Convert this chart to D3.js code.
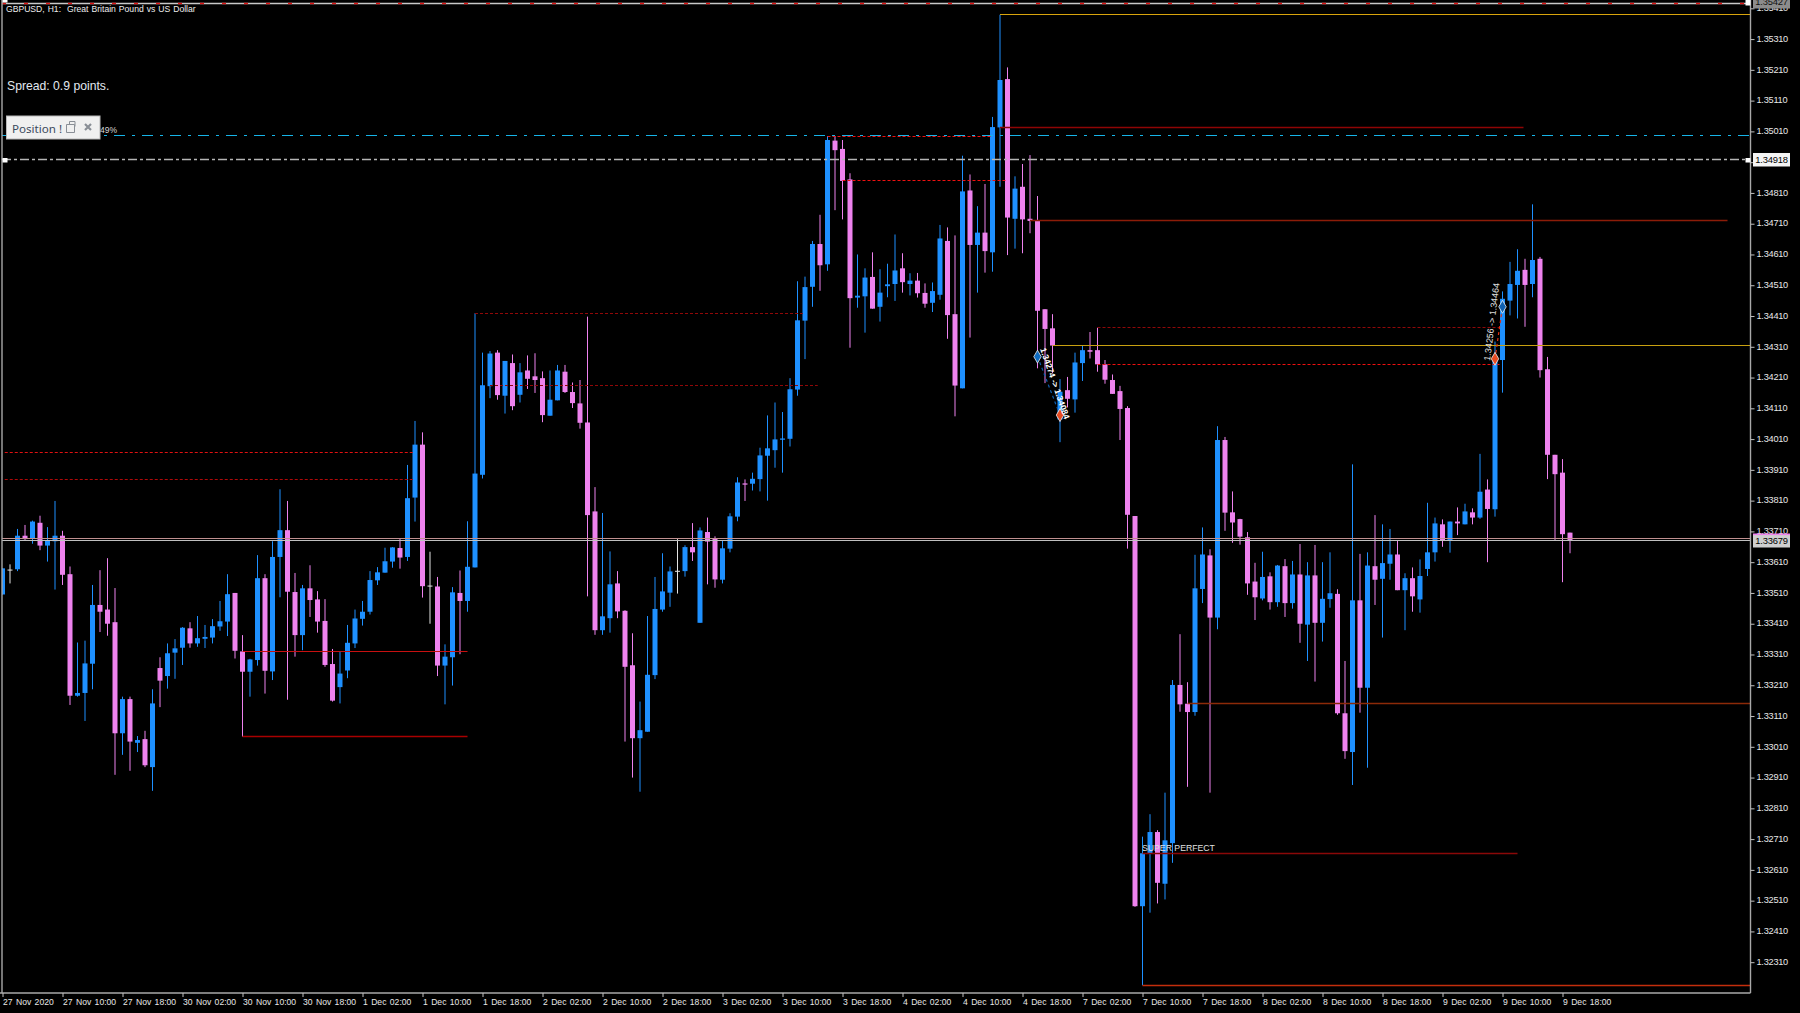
<!DOCTYPE html>
<html><head><meta charset="utf-8">
<style>html,body{margin:0;padding:0;background:#000;overflow:hidden}svg{display:block}</style>
<script src="https://cdn.jsdelivr.net/npm/d3@7/dist/d3.min.js"></script>
</head><body><div id="chart"></div>
<script>
// prices are stored in points: 133590 = 1.33590
const barHigh=[133590,133603,133718,133731,133745,133761,133724,133809,133712,133596,
133349,133355,133536,133584,133623,133526,133173,133173,133045,133062,
133197,133301,133346,133360,133399,133415,133435,133406,133425,133484,
133571,133510,133373,133296,133633,133571,133678,133847,133809,133575,
133536,133600,133516,133490,133328,133319,133406,133456,133484,133581,
133594,133657,133659,133687,133926,134069,134032,133644,133562,133343,
133529,133583,133743,134419,134291,134296,134299,134264,134285,134257,
134282,134289,134230,134233,134251,134251,134194,134202,134408,133854,
133770,133645,133581,133454,133379,133157,133435,133562,133639,133596,
133685,133665,133737,133723,133755,133694,133681,133769,133886,133879,
133901,133982,134087,134129,134098,134208,134523,134538,134654,134739,
134995,134995,134982,134874,134610,134565,134617,134562,134580,134675,
134614,134549,134550,134516,134519,134706,134698,134672,134931,134870,
134767,134839,135057,135389,135218,134864,134904,134933,134800,134432,
134416,134205,134212,134291,134314,134358,134372,134267,134220,134183,
134117,133760,132718,132791,132739,132861,133227,133376,133220,133634,
133723,133652,134052,134017,133840,133751,133708,133608,133644,133577,
133601,133620,133614,133669,133610,133666,133610,133642,133522,133289,
133928,133637,133642,133763,133733,133718,133682,133574,133593,133619,
133803,133755,133749,133742,133788,133800,133785,133962,133879,134327,
134490,134586,134627,134596,134773,134602,134277,133959,133945,133706];
const barLow=[133505,133541,133581,133682,133670,133649,133612,133521,133536,133146,
133173,133094,133197,133383,133371,132919,132984,132932,132993,132944,
132867,133139,133199,133231,133276,133332,133335,133331,133346,133387,
133370,133297,133043,133173,133274,133183,133227,133496,133163,133303,
133324,133432,133381,133270,133157,133151,133233,133331,133404,133440,
133536,133576,133592,133589,133614,133742,133495,133410,133240,133148,
133209,133311,133449,133593,133882,134143,134138,134093,134104,134129,
134173,134160,134065,134086,134136,134160,134111,134044,133499,133374,
133374,133381,133428,133027,132910,132864,133059,133230,133449,133465,
133508,133563,133614,133413,133538,133527,133541,133642,133743,133809,
133843,133840,133810,133917,133901,133986,134151,134270,134440,134492,
134557,134754,134724,134307,134437,134356,134434,134392,134471,134459,
134486,134477,134470,134437,134423,134463,134336,134084,134175,134340,
134486,134551,134554,134830,134608,134629,134614,134679,134240,134192,
134225,134000,134113,134096,134199,134272,134229,134190,134157,134007,
133654,132490,132235,132471,132501,132514,132633,133124,132880,133111,
133477,132861,133392,133712,133673,133667,133504,133422,133486,133456,
133465,133432,133459,133348,133289,133222,133352,133462,133114,132971,
132886,133121,132942,133471,133365,133553,133519,133389,133449,133446,
133565,133612,133660,133641,133698,133733,133733,133751,133610,133758,
134161,134412,134402,134375,134471,134210,133880,133682,133545,133639];
const barOpen=[133505,133586,133587,133696,133687,133738,133664,133678,133696,133571,
133176,133185,133280,133471,133456,133415,133054,133165,133023,133035,
132944,133266,133240,133316,133332,133395,133346,133361,133365,133401,
133417,133510,133320,133254,133292,133558,133255,133627,133714,133513,
133373,133525,133489,133419,133279,133204,133258,133346,133426,133449,
133551,133576,133612,133656,133627,133820,133992,133534,133531,133274,
133301,133510,133484,133593,133894,134182,134291,134151,134257,134154,
134233,134214,134208,134086,134136,134229,134163,134126,134064,133775,
133389,133428,133541,133452,133275,133038,133059,133243,133456,133511,
133582,133581,133659,133413,133708,133686,133553,133654,133758,133866,
133865,133880,133956,133974,134008,134011,134171,134395,134505,134644,
134578,134980,134953,134854,134470,134474,134537,134440,134507,134514,
134565,134514,134525,134485,134453,134479,134654,134416,134175,134818,
134641,134681,134617,135023,135180,134726,134830,134726,134719,134432,
134370,134074,134169,134139,134257,134299,134299,134253,134202,134166,
134111,133760,132492,132664,132733,132565,132697,133211,133150,133123,
133523,133632,133430,134007,133772,133750,133691,133547,133492,133564,
133480,133597,133477,133570,133407,133567,133413,133490,133507,133119,
132993,133486,133202,133597,133556,133605,133635,133519,133558,133489,
133588,133642,133733,133679,133742,133733,133772,133755,133846,133782,
134267,134460,134511,134560,134514,134596,134237,133959,133901,133706];
const barClose=[133590,133586,133696,133685,133742,133664,133682,133696,133569,133176,
133185,133281,133471,133449,133410,133054,133165,133027,133032,132950,
133151,133225,133314,133330,133397,133346,133363,133367,133402,133418,
133506,133322,133254,133294,133558,133257,133627,133714,133514,133373,
133525,133487,133417,133276,133160,133248,133348,133427,133449,133552,
133577,133613,133658,133625,133818,133992,133532,133534,133274,133303,
133512,133484,133595,133898,134185,134288,134153,134264,134117,134227,
134206,134202,134088,134138,134233,134163,134127,134063,133763,133389,
133434,133538,133450,133270,133038,133064,133244,133458,133515,133580,
133582,133659,133642,133713,133677,133554,133655,133759,133869,133862,
133881,133957,133980,134009,134012,134172,134396,134504,134644,134575,
134982,134949,134849,134468,134476,134535,134434,134486,134513,134558,
134520,134525,134484,134450,134491,134662,134413,134184,134815,134641,
134681,134621,135024,135177,134730,134824,134724,134719,134427,134368,
134314,134164,134141,134259,134299,134294,134253,134203,134157,134108,
133764,132492,132664,132733,132568,132706,133211,133148,133123,133525,
133635,133430,134007,133771,133739,133693,133541,133496,133562,133480,
133599,133477,133570,133410,133567,133413,133491,133509,133119,132996,
133486,133202,133599,133553,133607,133635,133519,133558,133499,133565,
133642,133736,133682,133742,133736,133775,133755,133839,133783,134273,
134466,134514,134557,134511,134592,134234,133959,133896,133701,133679];

const priceTicks=d3.range(135410,132300,-100);
const timeLabels=["27 Nov 2020","27 Nov 10:00","27 Nov 18:00","30 Nov 02:00","30 Nov 10:00","30 Nov 18:00","1 Dec 02:00","1 Dec 10:00","1 Dec 18:00","2 Dec 02:00","2 Dec 10:00","2 Dec 18:00","3 Dec 02:00","3 Dec 10:00","3 Dec 18:00","4 Dec 02:00","4 Dec 10:00","4 Dec 18:00","7 Dec 02:00","7 Dec 10:00","7 Dec 18:00","8 Dec 02:00","8 Dec 10:00","8 Dec 18:00","9 Dec 02:00","9 Dec 10:00","9 Dec 18:00"];
const timeTickBars=timeLabels.map((_,i)=>i*8);

// price levels: price, first bar, last bar
const levelPrice=[135390,134314,135024,134720,133150,132662,132235,133320,133043];
const levelFrom=[133,140,133,137,158,152,152,32,32];
const levelTo=[233,233,202.8,230,233,202,233,62,62];
const dotPrice=[134994,134851,134372,134253,134418,134183,133967,133879];
const dotFrom=[110,112,146,146,63,65,0.3,0.3];
const dotTo=[132,134,199.6,199.6,106.7,108.7,54.7,54.7];
const bidPrice=133679, askPrice=133688, topPrice=135427, whiteLevel=134918, cyanLevel=134997;
// closed trades: [bar,price] in, [bar,price] out
const tradeBars=[[138,141],[199,200]];
const tradePrices=[[134278,134088],[134271,134440]];
const tradeTexts=["1.34274 -> 1.34084","1.34256 -> 1.34464"];

// styles, separate from the values
const levelColor=["#d8a40c","#c8a010","#8e0505","#8c1c08","#8c2a08","#8a0808","#c42e0c","#c81010","#a80000"];
const levelWidth=[1.2,1.2,1.6,1.4,1.6,1.6,1.6,1,1.3];
const dotColor=["#f01010","#f01010","#900808","#f01010","#900808","#900808","#e01010","#b00808"];
const BULL="#1e90ff",BEAR="#ee82ee",DOJI="#e4e4e4";

const W=1800,H=1013,plotL=2,plotR=1750,plotB=993;
const x=d3.scaleLinear().domain([0,209]).range([2.5,1570]);
const y=d3.scaleLinear().domain([135310,132310]).range([39.08,962.2]);
const crisp=v=>Math.floor(y(v))+0.5;
const svg=d3.select("#chart").append("svg").attr("width",W).attr("height",H);
svg.append("rect").attr("width",W).attr("height",H).attr("fill","#000");
svg.append("defs").append("clipPath").attr("id","plot").append("rect")
  .attr("x",plotL).attr("y",0).attr("width",plotR-plotL).attr("height",plotB);
const F='"Liberation Sans",Arial,sans-serif';

const bars=d3.range(barHigh.length).map(i=>({i,h:barHigh[i],l:barLow[i],o:barOpen[i],c:barClose[i]}));
const col=d=>d.o===d.c?DOJI:(d.c>d.o?BULL:BEAR);
const g=svg.append("g").attr("clip-path","url(#plot)");
g.selectAll("rect.w").data(bars).join("rect").attr("class","w")
  .attr("x",d=>x(d.i)-0.5).attr("width",1)
  .attr("y",d=>y(d.h)).attr("height",d=>y(d.l)-y(d.h)).attr("fill",col);
g.selectAll("rect.b").data(bars).join("rect").attr("class","b")
  .attr("x",d=>x(d.i)-2.5).attr("width",5)
  .attr("y",d=>y(Math.max(d.o,d.c))).attr("height",d=>Math.max(1,y(Math.min(d.o,d.c))-y(Math.max(d.o,d.c))))
  .attr("fill",col);

// level lines
const lv=svg.append("g").attr("clip-path","url(#plot)");
levelPrice.forEach((p,i)=>lv.append("line").attr("x1",x(levelFrom[i])).attr("x2",x(levelTo[i]))
  .attr("y1",crisp(p)).attr("y2",crisp(p)).attr("stroke",levelColor[i]).attr("stroke-width",levelWidth[i]));
dotPrice.forEach((p,i)=>lv.append("line").attr("x1",x(dotFrom[i])).attr("x2",x(dotTo[i]))
  .attr("y1",crisp(p)).attr("y2",crisp(p)).attr("stroke",dotColor[i]).attr("stroke-width",1.2).attr("stroke-dasharray","3 2"));
const full=(p,c,w,dash)=>lv.append("line").attr("x1",plotL).attr("x2",plotR).attr("y1",crisp(p)).attr("y2",crisp(p))
  .attr("stroke",c).attr("stroke-width",w).attr("stroke-dasharray",dash||null);
full(cyanLevel,"#16b4e8",1.2,"11 7 3 7");
full(whiteLevel,"#b4b4b4",1.4,"9 3 3 3");
full(topPrice,"#c8c8c8",1.4);
full(topPrice,"#e01818",1.4,"4 18");
full(askPrice,"#c09090",1.2);
full(bidPrice,"#c0c0c0",1.2);

// trades
tradeBars.forEach((b,i)=>{
  const p=tradePrices[i];
  lv.append("line").attr("x1",x(b[0])).attr("y1",y(p[0])).attr("x2",x(b[1])).attr("y2",y(p[1]))
    .attr("stroke",i?"#e03010":"#0f5fb0").attr("stroke-width",1.2).attr("stroke-dasharray","3 3");
});
const diamond=d3.symbol().type(d3.symbolDiamond).size(48);
[[0,0,"#0f6cc0"],[0,1,"#e84a20"],[1,0,"#e84a20"],[1,1,"#1060b0"]].forEach(([t,k,c])=>{
  lv.append("path").attr("d",diamond).attr("transform",`translate(${x(tradeBars[t][k])},${y(tradePrices[t][k])})`)
    .attr("fill",c).attr("stroke","#f0f0f0").attr("stroke-width",.8);
});
svg.append("text").text(tradeTexts[0]).attr("transform","translate(1040,349) rotate(71)")
  .attr("fill","#fff").attr("font-family",F).attr("font-size",8.6).attr("font-weight","bold");
svg.append("text").text(tradeTexts[1]).attr("transform","translate(1490,361) rotate(-83)")
  .attr("fill","#e8e8e8").attr("font-family",F).attr("font-size",9);

svg.append("text").text("SUPER PERFECT").attr("x",1142).attr("y",850.5)
  .attr("fill","#e0e0e0").attr("font-family",F).attr("font-size",8.7);

// frame
const fr=svg.append("g").attr("stroke","#a8a8a8").attr("stroke-width",1.4);
fr.append("line").attr("x1",plotL).attr("x2",plotL).attr("y1",0).attr("y2",plotB);
fr.append("line").attr("x1",plotR+.5).attr("x2",plotR+.5).attr("y1",0).attr("y2",plotB);
fr.append("line").attr("x1",0).attr("x2",plotR+.5).attr("y1",plotB).attr("y2",plotB);

// axes
const fmt=v=>d3.format(".5f")(v/1e5);
const ay=svg.append("g").attr("transform",`translate(${plotR+.5},0)`)
  .call(d3.axisRight(y).tickValues(priceTicks).tickFormat(fmt).tickSize(4).tickPadding(2));
ay.select(".domain").remove();
ay.selectAll("line").attr("stroke","#c0c0c0");
ay.selectAll("text").attr("fill","#e8e8e8").attr("font-family",F).attr("font-size",9.2).attr("letter-spacing",-.25)
  .attr("transform","translate(0,-0.7)");
const ax=svg.append("g").attr("transform",`translate(0,${plotB})`)
  .call(d3.axisBottom(x).tickValues(timeTickBars).tickFormat((d,i)=>timeLabels[i]).tickSize(4).tickPadding(2));
ax.select(".domain").remove();
ax.selectAll("line").attr("stroke","#c0c0c0");
ax.selectAll("text").attr("fill","#e8e8e8").attr("font-family",F).attr("font-size",8.6)
  .attr("text-anchor","start").attr("word-spacing",1);

// price tags
const tag=(p,bg,fg)=>{
  const top=p===topPrice?-5:Math.round(y(p)-6.5);
  svg.append("rect").attr("x",1753).attr("y",top).attr("width",37).attr("height",13.5).attr("fill",bg);
  svg.append("text").text(fmt(p)).attr("x",1771.5).attr("y",top+10.2).attr("text-anchor","middle")
    .attr("fill",fg).attr("font-family",F).attr("font-size",9.4).attr("letter-spacing",-.2);
};
tag(topPrice,"#8c8c8c","#111");
tag(whiteLevel,"#f4f4f4","#000");
tag(bidPrice,"#cfcfcf","#000");
svg.append("rect").attr("x",1753).attr("y",533.5).attr("width",37).attr("height",1.6).attr("fill",BEAR);

// selection handles
[[2.5,158,5,4.5],[1745.5,158,5,4.5],[1745.5,0,5,5.5],[2.5,0,5,2.5]].forEach(r=>
  svg.append("rect").attr("x",r[0]).attr("y",r[1]).attr("width",r[2]).attr("height",r[3]).attr("fill","#fff"));

// header texts
svg.append("text").text("GBPUSD, H1:  Great Britain Pound vs US Dollar").attr("x",6).attr("y",12)
  .attr("xml:space","preserve").attr("fill","#eeeeee").attr("font-family",F).attr("font-size",8.6).attr("word-spacing",.6);
svg.append("text").text("Spread: 0.9 points.").attr("x",7).attr("y",90)
  .attr("fill","#e2e8f0").attr("font-family",F).attr("font-size",12.2);
svg.append("text").text("49%").attr("x",100).attr("y",133)
  .attr("fill","#d8d8d8").attr("font-family",F).attr("font-size",8.5);

// Position panel
const pn=svg.append("g");
pn.append("rect").attr("x",6.5).attr("y",116).attr("width",93.5).attr("height",23).attr("fill","#f0f0f0").attr("stroke","#b8b8b8");
pn.append("text").text("Position !").attr("x",12).attr("y",133).attr("fill","#3c4a5e")
  .attr("font-family",'"Noto Sans",sans-serif').attr("font-size",11.6);
pn.append("path").attr("d","M66.5 124.5h8v8h-8zM69.5 124.5v-3h5.5v5h-1").attr("fill","none").attr("stroke","#8a8f96");
pn.append("path").attr("d","M85 124l6 6M91 124l-6 6").attr("stroke","#8a8f96").attr("stroke-width",2.2);
</script></body></html>
